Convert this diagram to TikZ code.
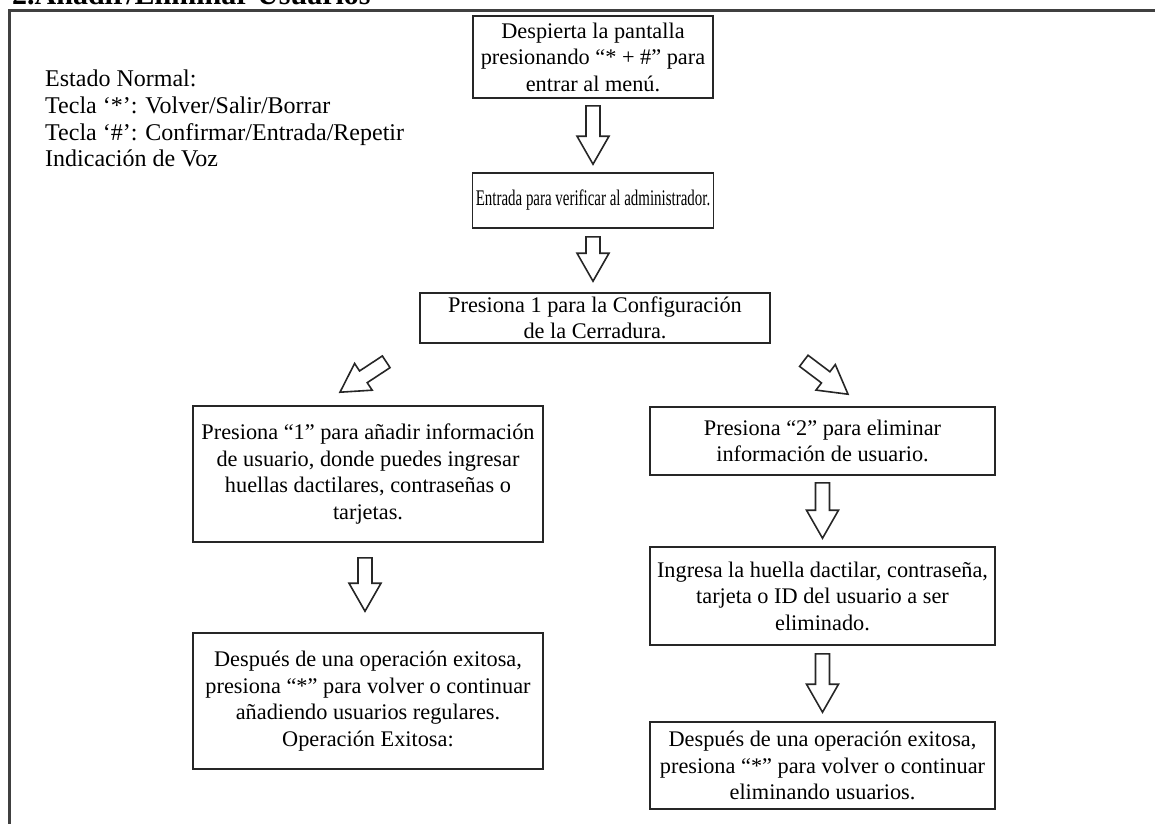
\documentclass[tikz,border=0pt]{standalone}
\usepackage{fontspec}
\setmainfont{Liberation Serif}
\usetikzlibrary{calc}

% flecha hueca entre dos puntos
\newcommand{\flecha}[2]{%
  \path (#1) coordinate (f-a) (#2) coordinate (f-b);
  \coordinate (f-c) at ($(f-b)!28pt!(f-a)$);
  \draw[hueca] ($(f-a)!7pt!90:(f-b)$) -- ($(f-c)!7pt!-90:(f-a)$) -- ($(f-c)!16pt!-90:(f-a)$) -- (f-b)
    -- ($(f-c)!16pt!90:(f-a)$) -- ($(f-c)!7pt!90:(f-a)$) -- ($(f-a)!7pt!-90:(f-b)$) -- cycle;}

\begin{document}
\begin{tikzpicture}[x=1pt,y=1pt,
  paso/.style={draw=black!85,line width=1.6pt,align=center,inner sep=2pt,font=\fontsize{22.3}{26.5}\selectfont},
  hueca/.style={draw=black!85,line width=1.6pt,fill=white,line join=miter}]
\useasboundingbox (0,0) rectangle (1155,-823);
\clip (0,0) rectangle (1155,-823);
\draw[line width=3pt,black!75] (9.5,-900)--(9.5,-10)--(1200,-10);
\node[anchor=base west,inner sep=0pt,font=\bfseries\fontsize{30}{30}\selectfont] (titulo) at (12,-4) {2.Añadir/Eliminar Usuarios};
\node[anchor=north west,align=left,inner sep=0pt,font=\fontsize{24}{26.7}\selectfont] (leyenda) at (45,-70)
  {Estado Normal:\\Tecla ‘*’: Volver/Salir/Borrar\\Tecla ‘\#’: Confirmar/Entrada/Repetir\\Indicación de Voz};

\node[paso,minimum width=240pt,minimum height=82pt] (despierta) at (593,-57) {Despierta la pantalla\\presionando “* + \#” para\\entrar al menú.};
\node[paso,minimum width=241pt,minimum height=55pt] (verificar) at (593,-200.5) {\scalebox{0.67}[1]{Entrada para verificar al administrador.}};
\node[paso,minimum width=350pt,minimum height=50pt,inner sep=0pt] (config) at (595,-318) {Presiona 1 para la Configuración\\de la Cerradura.};
\node[paso,minimum width=350pt,minimum height=136pt] (anadir) at (368,-474) {Presiona “1” para añadir información\\de usuario, donde puedes ingresar\\huellas dactilares, contraseñas o\\tarjetas.};
\node[paso,minimum width=350pt,minimum height=136pt] (exitoA) at (368,-701) {Después de una operación exitosa,\\presiona “*” para volver o continuar\\añadiendo usuarios regulares.\\Operación Exitosa:};
\node[paso,minimum width=345pt,minimum height=68pt] (eliminar) at (822.5,-441) {Presiona “2” para eliminar\\información de usuario.};
\node[paso,minimum width=345pt,minimum height=98pt] (ingresa) at (822.5,-596) {Ingresa la huella dactilar, contraseña,\\tarjeta o ID del usuario a ser\\eliminado.};
\node[paso,minimum width=345pt,minimum height=87pt] (exitoE) at (822.5,-765.5) {Después de una operación exitosa,\\presiona “*” para volver o continuar\\eliminando usuarios.};

\flecha{$(despierta.south)+(0,-7)$}{$(verificar.north)+(0,8)$}
\flecha{$(verificar.south)+(0,-8)$}{$(verificar.south |- config.north)+(0,11)$}
\flecha{$(config.south west)+(-33,-18)$}{$(anadir.north)+(-28,13)$}
\flecha{$(config.south east)+(33,-17)$}{$(eliminar.north)+(25.5,12)$}
\flecha{$(anadir.south)+(-3,-15)$}{$(exitoA.north)+(-3,21)$}
\flecha{$(eliminar.south)+(0,-7)$}{$(ingresa.north)+(0,8)$}
\flecha{$(ingresa.south)+(0,-8)$}{$(exitoE.north)+(0,9)$}
\end{tikzpicture}
\end{document}
